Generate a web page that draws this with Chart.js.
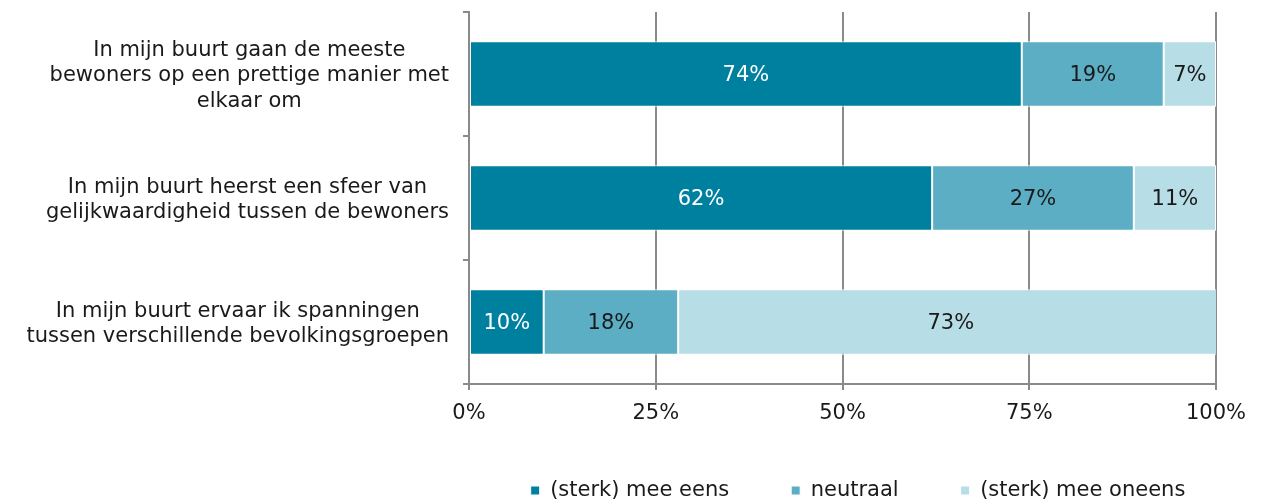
<!DOCTYPE html>
<html>
<head>
<meta charset="utf-8">
<script src="https://cdn.jsdelivr.net/npm/chart.js@4.4.1/dist/chart.umd.min.js"></script>
<style>
  html, body { margin: 0; padding: 0; background: #fff; }
  #wrap { width: 1275px; height: 501px; }
</style>
</head>
<body>
<div id="wrap"><canvas id="chartCanvas"></canvas></div>
<script>
// data
var categories = [
    ['In mijn buurt gaan de meeste', 'bewoners op een prettige manier met', 'elkaar om'],
    ['In mijn buurt heerst een sfeer van', 'gelijkwaardigheid tussen de bewoners'],
    ['In mijn buurt ervaar ik spanningen', 'tussen verschillende bevolkingsgroepen']
];
var seriesNames = ['(sterk) mee eens', 'neutraal', '(sterk) mee oneens'];
var meeEens = [74, 62, 10];
var neutraal = [19, 27, 18];
var meeOneens = [7, 11, 73];
var xTicks = [0, 25, 50, 75, 100];

var colors = ['#00809f', '#5baec4', '#b7dde6'];
var labelColors = ['#ffffff', '#1a1a1a', '#1a1a1a'];
var FONT = '"DejaVu Sans", Verdana, sans-serif';
var FS = 21;

// category labels: block right aligned, lines centred inside the block
var catLabels = {
    id: 'catLabels',
    afterDraw: function(chart) {
        var ctx = chart.ctx;
        var y = chart.scales.y;
        var right = y.right - 20;
        ctx.save();
        ctx.font = FS + 'px ' + FONT;
        ctx.fillStyle = '#1a1a1a';
        ctx.textAlign = 'center';
        ctx.textBaseline = 'middle';
        categories.forEach(function(lines, i) {
            var maxW = 0;
            lines.forEach(function(l) { maxW = Math.max(maxW, ctx.measureText(l).width); });
            var cx = right - maxW / 2;
            var cy = y.getPixelForValue(i) + 2;
            var lh = 25.5;
            var top = cy - (lines.length - 1) * lh / 2;
            lines.forEach(function(l, j) { ctx.fillText(l, cx, top + j * lh); });
        });
        ctx.restore();
    }
};

// value labels in the middle of each segment
var valueLabels = {
    id: 'valueLabels',
    afterDatasetsDraw: function(chart) {
        var ctx = chart.ctx;
        ctx.save();
        ctx.font = FS + 'px ' + FONT;
        ctx.textAlign = 'center';
        ctx.textBaseline = 'middle';
        chart.data.datasets.forEach(function(ds, di) {
            chart.getDatasetMeta(di).data.forEach(function(bar, i) {
                var p = bar.getCenterPoint();
                ctx.fillStyle = labelColors[di];
                ctx.fillText(ds.data[i] + '%', p.x, p.y + 2);
            });
        });
        ctx.restore();
    }
};

// nudge the legend to where it sits in the reference
var legendShift = {
    id: 'legendShift',
    afterLayout: function(chart) {
        var lg = chart.legend;
        lg.left += 250; lg.right += 250;
        lg.top -= 10; lg.bottom = lg.top + 110;
    }
};

function makeSet(name, data, idx) {
    return {
        label: name,
        data: data,
        backgroundColor: colors[idx],
        borderColor: '#ffffff',
        borderWidth: 1,
        borderSkipped: false,
        barPercentage: 0.53,
        categoryPercentage: 1
    };
}

var ctx = document.getElementById('chartCanvas').getContext('2d');
var chart = new Chart(ctx, {
    type: 'bar',
    data: {
        labels: categories.map(function(c) { return c.join(' '); }),
        datasets: [
            makeSet(seriesNames[0], meeEens, 0),
            makeSet(seriesNames[1], neutraal, 1),
            makeSet(seriesNames[2], meeOneens, 2)
        ]
    },
    options: {
        indexAxis: 'y',
        responsive: true,
        maintainAspectRatio: false,
        animation: false,
        layout: { padding: { top: 12, right: 59, left: 0, bottom: 0 } },
        scales: {
            x: {
                stacked: true,
                min: 0,
                max: 100,
                afterBuildTicks: function(scale) {
                    scale.ticks = xTicks.map(function(v) { return { value: v }; });
                },
                afterFit: function(scale) { scale.height = 44; },
                grid: {
                    color: '#8a8a8a',
                    lineWidth: 2,
                    tickLength: 6,
                    drawOnChartArea: true
                },
                border: { display: true, color: '#8a8a8a', width: 2 },
                ticks: {
                    color: '#1a1a1a',
                    font: { family: FONT, size: FS },
                    padding: 11,
                    maxRotation: 0,
                    callback: function(v) { return v + '%'; }
                }
            },
            y: {
                stacked: true,
                z: 1,
                offset: true,
                afterFit: function(scale) { scale.width = 469; },
                grid: {
                    offset: true,
                    drawOnChartArea: false,
                    color: '#8a8a8a',
                    lineWidth: 2,
                    tickLength: 6
                },
                border: { display: true, color: '#8a8a8a', width: 2 },
                ticks: { display: false }
            }
        },
        plugins: {
            tooltip: { enabled: false },
            legend: {
                position: 'bottom',
                maxHeight: 73,
                labels: {
                    color: '#1a1a1a',
                    font: { family: FONT, size: FS },
                    boxWidth: 9,
                    boxHeight: 9,
                    padding: 62
                }
            }
        }
    },
    plugins: [catLabels, valueLabels, legendShift]
});
</script>
</body>
</html>
